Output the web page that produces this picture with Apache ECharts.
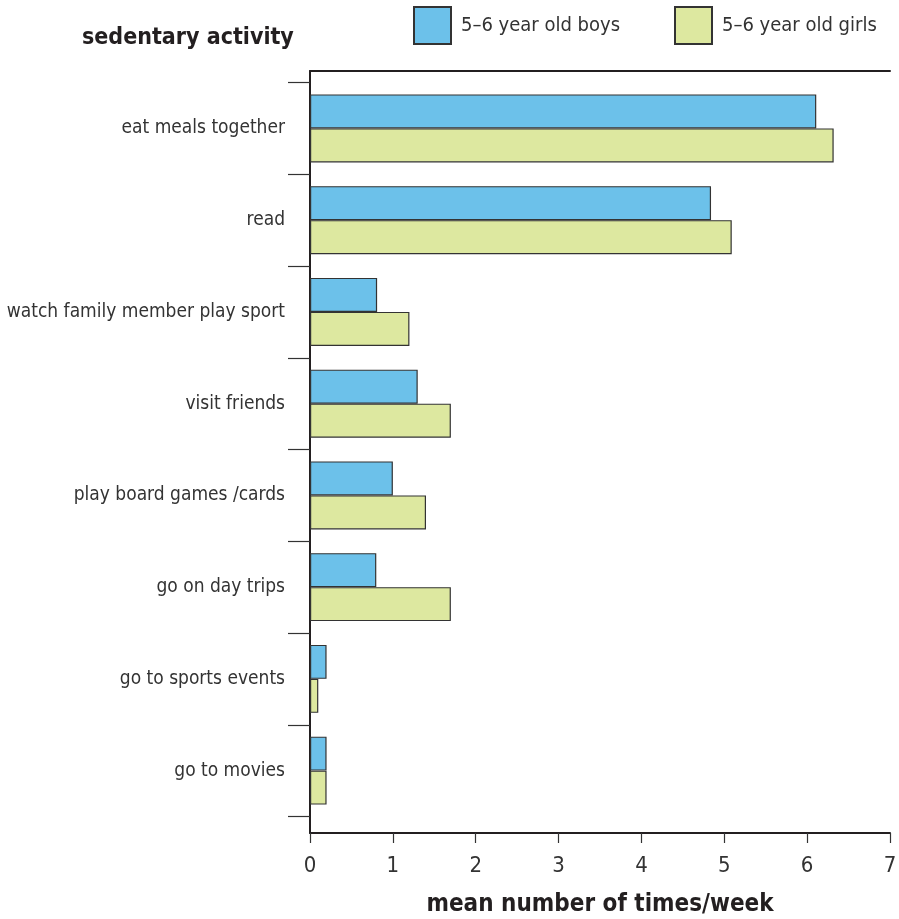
<!DOCTYPE html>
<html>
<head>
<meta charset="utf-8">
<script src="https://cdn.jsdelivr.net/npm/echarts@6/dist/echarts.min.js"></script>
<style>html,body{margin:0;padding:0;background:#fff;}#c{width:899px;height:919px;}</style>
</head>
<body>
<div id="c"></div>
<script>
const categories = ['eat meals together','read','watch family member play sport','visit friends','play board games /cards','go on day trips','go to sports events','go to movies'];
const boys = [6.11, 4.84, 0.81, 1.30, 1.00, 0.80, 0.20, 0.20];
const girls = [6.32, 5.09, 1.20, 1.70, 1.40, 1.70, 0.10, 0.20];
const xTicks = [0,1,2,3,4,5,6,7];
const seriesNames = ['5\u20136 year old boys','5\u20136 year old girls'];
const titleText = 'sedentary activity';
const xName = 'mean number of times/week';

const FONT = "'Liberation Sans Narrow','DejaVu Sans Condensed','Roboto',sans-serif";
const ink = '#231f20';
const chart = echarts.init(document.getElementById('c'), null, {renderer:'canvas'});
chart.setOption({
  backgroundColor:'#fff',
  animation:false,
  title:{text:titleText,left:77,top:22,textStyle:{fontFamily:FONT,fontWeight:'bold',fontSize:23,color:ink}},
  legend:[
    {data:[seriesNames[0]],left:413,top:6,padding:0,itemWidth:37,itemHeight:37,icon:'rect',
     textStyle:{fontFamily:FONT,fontSize:20,color:'#333',padding:[0,0,0,5]}},
    {data:[seriesNames[1]],left:674,top:6,padding:0,itemWidth:37,itemHeight:37,icon:'rect',
     textStyle:{fontFamily:FONT,fontSize:20,color:'#333',padding:[0,0,0,5]}}
  ],
  grid:[
    {left:310,right:9,top:71,bottom:86,outerBoundsMode:'none',containLabel:false},
    {left:310,right:9,top:82.5,bottom:102.5,outerBoundsMode:'none',containLabel:false}
  ],
  xAxis:[
    {type:'value',gridIndex:0,min:0,max:7,interval:1,position:'bottom',
     axisLine:{show:true,onZero:false,lineStyle:{color:ink,width:2}},
     axisTick:{show:true,length:10,lineStyle:{color:'#333',width:1.2}},
     axisLabel:{margin:22,fontFamily:FONT,fontSize:22,color:'#333',formatter:function(v){return xTicks.indexOf(v)>=0?String(v):'';}},
     splitLine:{show:false},
     name:xName,nameLocation:'middle',nameGap:60,
     nameTextStyle:{fontFamily:FONT,fontWeight:'bold',fontSize:24,color:ink}},
    {type:'value',gridIndex:0,min:0,max:7,position:'top',
     axisLine:{show:true,onZero:false,lineStyle:{color:ink,width:2}},
     axisTick:{show:false},axisLabel:{show:false},splitLine:{show:false}},
    {type:'value',gridIndex:1,min:0,max:7,show:false,splitLine:{show:false}}
  ],
  yAxis:[
    {type:'value',gridIndex:0,min:0,max:1,
     axisLine:{show:true,onZero:false,lineStyle:{color:ink,width:2}},
     axisTick:{show:false},axisLabel:{show:false},splitLine:{show:false}},
    {type:'category',gridIndex:1,data:categories,inverse:true,
     axisLine:{show:false},
     axisTick:{show:true,length:22,lineStyle:{color:'#333',width:1.2}},
     axisLabel:{margin:25,fontFamily:FONT,fontSize:19,color:'#333',padding:[5,0,0,0]}}
  ],
  series:[
    {name:seriesNames[0],type:'bar',xAxisIndex:2,yAxisIndex:1,data:boys,barWidth:34,barGap:'0%',
     itemStyle:{color:'#6cc1ea',borderColor:'#333',borderWidth:1.2}},
    {name:seriesNames[1],type:'bar',xAxisIndex:2,yAxisIndex:1,data:girls,barWidth:34,barGap:'0%',
     itemStyle:{color:'#dde8a0',borderColor:'#333',borderWidth:1.2}}
  ]
});
</script>
</body>
</html>
